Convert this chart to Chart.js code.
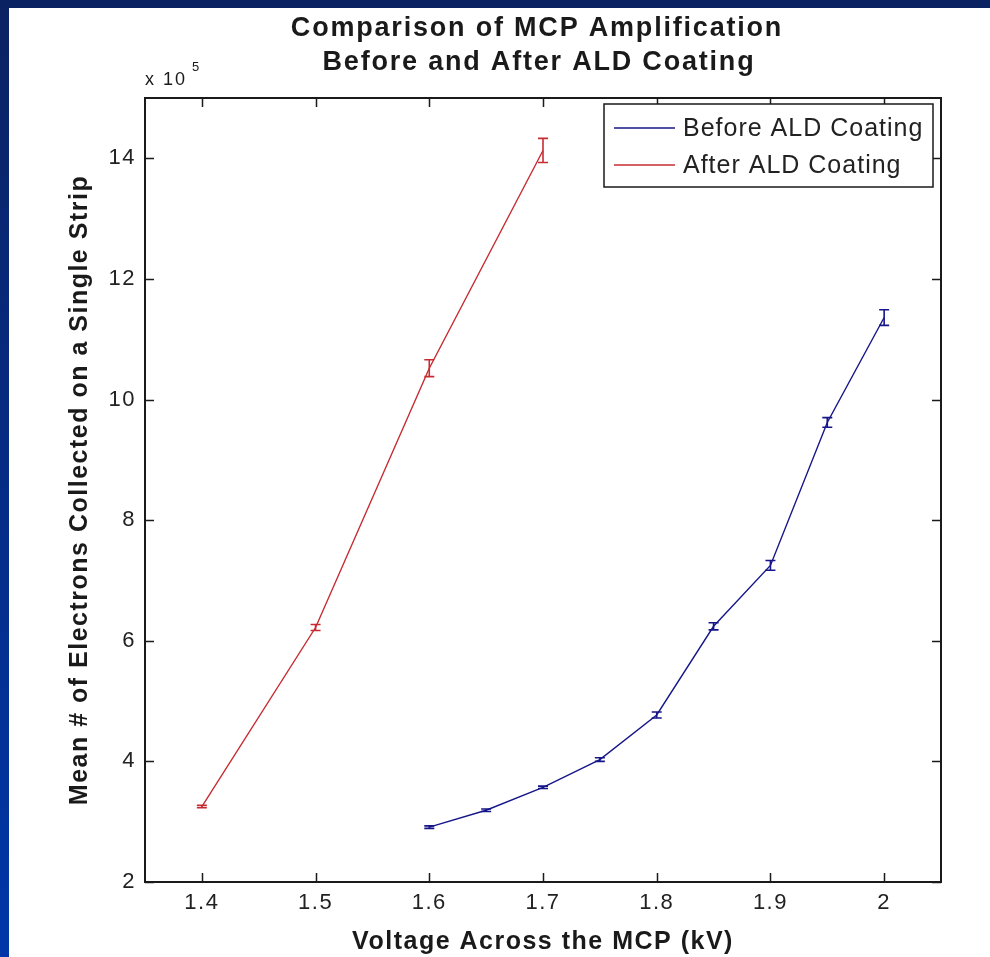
<!DOCTYPE html>
<html>
<head>
<meta charset="utf-8">
<script src="https://cdn.jsdelivr.net/npm/chart.js@4.4.1/dist/chart.umd.min.js"></script>
<style>
html, body { margin: 0; padding: 0; }
body { width: 990px; height: 957px; position: relative; overflow: hidden;
       background: linear-gradient(#0b2262, #0036a8); }
#sheet { position: absolute; left: 9px; top: 8px; right: 0; bottom: 0; background: #fff; }
#box { position: absolute; left: 0; top: 0; width: 990px; height: 957px; }
</style>
</head>
<body>
<div id="sheet"></div>
<div id="box"><canvas id="g1"></canvas></div>
<script>
// mean electrons per strip, in units of 1e5
var voltBefore = [1.6, 1.65, 1.7, 1.75, 1.8, 1.85, 1.9, 1.95, 2.0];
var meanBefore = [2.91, 3.19, 3.57, 4.03, 4.77, 6.24, 7.25, 9.62, 11.36];
var errBefore  = [0.02, 0.02, 0.02, 0.03, 0.05, 0.06, 0.08, 0.08, 0.13];

var voltAfter = [1.4, 1.5, 1.6, 1.7];
var meanAfter = [3.25, 6.22, 10.52, 14.13];
var errAfter  = [0.02, 0.05, 0.14, 0.2];

var xTicks = [1.4, 1.5, 1.6, 1.7, 1.8, 1.9, 2];
var yTicks = [2, 4, 6, 8, 10, 12, 14];

var FONT = "'Liberation Sans', Arial, sans-serif";
var INK = '#1a1a1a';

function pts(xs, ys) {
    return xs.map(function(x, i) { return {x: x, y: ys[i]}; });
}

// error bars, axis box with inward ticks, title, legend
var matlabLook = {
    id: 'matlabLook',
    beforeDraw: function(chart) {
        chart.ctx.letterSpacing = '1.5px';
    },
    afterDatasetsDraw: function(chart) {
        var ctx = chart.ctx, xs = chart.scales.x, ys = chart.scales.y;
        chart.data.datasets.forEach(function(ds) {
            ctx.save();
            ctx.strokeStyle = ds.borderColor;
            ctx.lineWidth = 1.6;
            ds.data.forEach(function(p, i) {
                var px = xs.getPixelForValue(p.x);
                var t = ys.getPixelForValue(p.y + ds.errors[i]);
                var b = ys.getPixelForValue(p.y - ds.errors[i]);
                ctx.beginPath();
                ctx.moveTo(px, t); ctx.lineTo(px, b);
                ctx.moveTo(px - 5, t); ctx.lineTo(px + 5, t);
                ctx.moveTo(px - 5, b); ctx.lineTo(px + 5, b);
                ctx.stroke();
            });
            ctx.restore();
        });

        // box and ticks on all four sides
        var a = chart.chartArea, tl = 9;
        ctx.save();
        ctx.strokeStyle = INK;
        ctx.lineWidth = 2;
        ctx.strokeRect(a.left, a.top, a.right - a.left, a.bottom - a.top);
        ctx.lineWidth = 1.5;
        ctx.beginPath();
        xTicks.forEach(function(v) {
            var px = Math.round(xs.getPixelForValue(v)) + 0.5;
            ctx.moveTo(px, a.bottom); ctx.lineTo(px, a.bottom - tl);
            ctx.moveTo(px, a.top); ctx.lineTo(px, a.top + tl);
        });
        yTicks.forEach(function(v) {
            var py = Math.round(ys.getPixelForValue(v)) + 0.5;
            ctx.moveTo(a.left, py); ctx.lineTo(a.left + tl, py);
            ctx.moveTo(a.right, py); ctx.lineTo(a.right - tl, py);
        });
        ctx.stroke();
        ctx.restore();
    },
    afterDraw: function(chart) {
        var ctx = chart.ctx, a = chart.chartArea;
        ctx.save();
        ctx.fillStyle = INK;

        // title
        ctx.font = 'bold 27px ' + FONT;
        ctx.letterSpacing = '1.8px';
        ctx.textAlign = 'center';
        ctx.textBaseline = 'middle';
        ctx.fillText('Comparison of MCP Amplification', 537, 29);
        ctx.fillText('Before and After ALD Coating', 539, 63);

        // exponent above the y axis
        ctx.letterSpacing = '2px';
        ctx.textAlign = 'left';
        ctx.textBaseline = 'alphabetic';
        ctx.font = '18px ' + FONT;
        ctx.fillText('x 10', a.left, 85);
        ctx.font = '13px ' + FONT;
        ctx.fillText('5', a.left + 47, 71);

        // legend
        var lx = 604, ly = 104, lw = 329, lh = 83;
        ctx.fillStyle = '#fff';
        ctx.fillRect(lx, ly, lw, lh);
        ctx.strokeStyle = INK;
        ctx.lineWidth = 1.5;
        ctx.strokeRect(lx, ly, lw, lh);
        ctx.font = '25px ' + FONT;
        ctx.letterSpacing = '1px';
        ctx.textBaseline = 'middle';
        chart.data.datasets.forEach(function(ds, i) {
            var y = ly + 24 + i * 37;
            ctx.strokeStyle = ds.borderColor;
            ctx.lineWidth = 1.5;
            ctx.beginPath();
            ctx.moveTo(lx + 10, y); ctx.lineTo(lx + 71, y);
            ctx.stroke();
            ctx.fillStyle = '#222';
            ctx.fillText(ds.label, lx + 79, y + 1);
        });
        ctx.restore();
    }
};

var ctx_1 = document.getElementById('g1');

var myChart = new Chart(ctx_1, {
    type: 'scatter',
    data: {
        datasets: [{
            label: 'Before ALD Coating',
            data: pts(voltBefore, meanBefore),
            errors: errBefore,
            borderColor: '#16168a',
            showLine: true,
            borderWidth: 1.4,
            pointRadius: 0
        }, {
            label: 'After ALD Coating',
            data: pts(voltAfter, meanAfter),
            errors: errAfter,
            borderColor: '#c62c32',
            showLine: true,
            borderWidth: 1.4,
            pointRadius: 0
        }]
    },
    options: {
        responsive: true,
        maintainAspectRatio: false,
        animation: false,
        layout: { padding: { top: 98, right: 49, left: 0, bottom: 0 } },
        plugins: {
            legend: { display: false },
            title: { display: false },
            tooltip: { enabled: false }
        },
        scales: {
            x: {
                type: 'linear',
                min: 1.35,
                max: 2.05,
                afterBuildTicks: function(s) { s.ticks = xTicks.map(function(v) { return {value: v}; }); },
                afterFit: function(s) { s.height = 75; },
                grid: { display: false, drawTicks: false },
                border: { display: false },
                ticks: {
                    padding: 8,
                    color: '#222',
                    font: { family: FONT, size: 22 },
                    callback: function(v) { return String(v); }
                },
                title: {
                    display: true,
                    text: 'Voltage Across the MCP (kV)',
                    color: INK,
                    font: { family: FONT, size: 25, weight: 'bold' },
                    padding: { top: 6, bottom: 0 }
                }
            },
            y: {
                type: 'linear',
                min: 2,
                max: 15,
                afterBuildTicks: function(s) { s.ticks = yTicks.map(function(v) { return {value: v}; }); },
                afterFit: function(s) { s.width = 145; },
                grid: { display: false, drawTicks: false },
                border: { display: false },
                ticks: {
                    padding: 9,
                    color: '#222',
                    font: { family: FONT, size: 22 },
                    callback: function(v) { return String(v); }
                },
                title: {
                    display: true,
                    text: 'Mean # of Electrons Collected on a Single Strip',
                    color: INK,
                    font: { family: FONT, size: 25, weight: 'bold' },
                    padding: { top: 65, bottom: 0 }
                }
            }
        }
    },
    plugins: [matlabLook]
});
</script>
</body>
</html>
